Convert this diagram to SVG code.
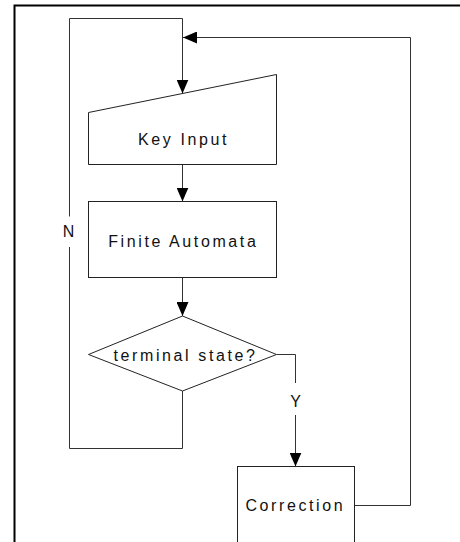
<svg xmlns="http://www.w3.org/2000/svg" width="460" height="542" viewBox="0 0 460 542">
  <style>
    .shape { fill: #ffffff; stroke: #222222; stroke-width: 1; }
    .conn { fill: none; stroke: #333333; stroke-width: 1; }
    .label { font-family: "Liberation Sans", Arial, sans-serif; font-size: 16px; fill: #111111; letter-spacing: 2.6px; text-anchor: middle; }
    .edge-label { font-family: "Liberation Sans", Arial, sans-serif; font-size: 16px; fill: #111111; text-anchor: middle; }
    .frame { fill: none; stroke: #000000; stroke-width: 2; }
  </style>
  <defs>
    <marker id="arrow" markerUnits="userSpaceOnUse" markerWidth="14" markerHeight="12" refX="14" refY="6" orient="auto">
      <path d="M0,0 L14,6 L0,12 z" fill="#000000"/>
    </marker>
  </defs>
  <rect width="460" height="542" fill="#ffffff"/>
  <path class="frame" d="M14.5,542 V5.5 H460"/>

  <g id="connectors">
    <path class="conn" d="M182.5,391 V448.5 H69.5 V247 M69.5,216.5 V18.5 H182.5 V93.5" marker-end="url(#arrow)"/>
    <path class="conn" d="M354.5,505.5 H410.5 V37.5 H183" marker-end="url(#arrow)"/>
    <path class="conn" d="M182.5,164.5 V201.5" marker-end="url(#arrow)"/>
    <path class="conn" d="M182.5,277.5 V316" marker-end="url(#arrow)"/>
    <path class="conn" d="M276.5,354.5 H295.5 V383 M295.5,415 V466.5" marker-end="url(#arrow)"/>
    <text class="edge-label" x="68.5" y="236.5">N</text>
    <text class="edge-label" x="295.5" y="406.5">Y</text>
  </g>

  <g id="key-input">
    <polygon class="shape" points="88.5,112.5 276.5,74.5 276.5,164.5 88.5,164.5"/>
    <text class="label" x="183.5" y="145">Key Input</text>
  </g>

  <g id="finite-automata">
    <rect class="shape" x="88.5" y="201.5" width="188" height="76"/>
    <text class="label" x="183.3" y="247">Finite Automata</text>
  </g>

  <g id="terminal-state">
    <polygon class="shape" points="182.5,316 276.5,354.5 182.5,391 88.5,354.5"/>
    <text class="label" x="185.5" y="360.5">terminal state?</text>
  </g>

  <g id="correction">
    <rect class="shape" x="237.5" y="466.5" width="117" height="100"/>
    <text class="label" x="295.3" y="511">Correction</text>
  </g>
</svg>
